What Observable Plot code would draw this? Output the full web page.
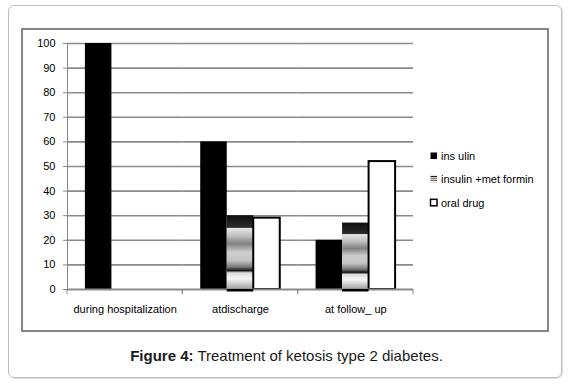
<!DOCTYPE html>
<html>
<head>
<meta charset="utf-8">
<script src="https://cdn.jsdelivr.net/npm/d3@7"></script>
<script src="https://cdn.jsdelivr.net/npm/@observablehq/plot@0.6"></script>
<style>
  html, body { margin: 0; padding: 0; background: #fff; }
  body { width: 573px; height: 386px; position: relative; overflow: hidden; font-family: "Liberation Sans", Arial, sans-serif; }
  #outer { position: absolute; left: 8px; top: 5px; width: 552px; height: 371px; border: 1px solid #bdbdbd; border-radius: 6px; box-shadow: 1px 1px 0 #e0e0e0; }
  #inner { position: absolute; left: 21px; top: 28px; width: 524px; height: 300px; border: 2px solid #858585; }
  #chart { position: absolute; left: 0; top: 0; }
  #legend { position: absolute; left: 428px; top: 148px; }
  #caption { position: absolute; left: 0; top: 347px; width: 573px; text-align: center; font-size: 15px; line-height: 17px; color: #1a1a1a; }
</style>
</head>
<body>
<div id="outer"></div>
<div id="inner"></div>
<div id="chart"></div>
<div id="legend"></div>
<div id="caption"><b>Figure 4:</b> Treatment of ketosis type 2 diabetes.</div>
<script>
// ---- data ----
const categories = ["during hospitalization", "atdischarge", "at follow_ up"];
const series = ["ins ulin", "insulin +met formin", "oral drug"];
const insulin = [100, 60, 20];
const metformin = [0, 30, 27];
const oralDrug = [0, 29, 52];
const yTicks = [0, 10, 20, 30, 40, 50, 60, 70, 80, 90, 100];

const seriesValues = [insulin, metformin, oralDrug];
const rows = [];
series.forEach((s, j) => categories.forEach((c, i) => {
  if (seriesValues[j][i] > 0) rows.push({category: c, series: s, value: seriesValues[j][i]});
}));
const bySeries = s => rows.filter(d => d.series === s);

// gradient stops for the "insulin +met formin" fill
const gradStops = [
  [0, "#0e0e0e"], [0.165, "#2c2c2c"], [0.18, "#e4e4e4"], [0.27, "#c4c4c4"],
  [0.39, "#808080"], [0.5, "#cdcdcd"], [0.61, "#c6c6c6"], [0.7, "#7a7a7a"],
  [0.75, "#151515"], [0.78, "#dadada"], [0.86, "#f6f6f6"], [1, "#a0a0a0"]
];

const boundaryTicks = (index, scales, values, dim) => {
  const g = d3.create("svg:g").attr("stroke", "#888").attr("stroke-width", 1);
  const yb = dim.height - dim.marginBottom;
  for (const xv of [dim.marginLeft, dim.width - dim.marginRight]) {
    g.append("line").attr("x1", xv).attr("x2", xv).attr("y1", yb).attr("y2", yb + 5);
  }
  return g.node();
};

const chart = Plot.plot({
  width: 573,
  height: 386,
  marginLeft: 67,
  marginRight: 160,
  marginTop: 43,
  marginBottom: 97,
  style: {background: "transparent", fontFamily: "'Liberation Sans', Arial, sans-serif", fontSize: "11px", color: "#000"},
  fx: {domain: categories, padding: 0, label: null, round: false},
  x: {domain: series, paddingInner: 0, paddingOuter: 0.675, round: false, axis: null},
  y: {domain: [0, 100], label: null},
  marks: [
    Plot.ruleY(yTicks.filter(d => d > 0), {stroke: "#8a8a8a", strokeWidth: 1.6}),
    Plot.barY(bySeries(series[0]), {fx: "category", x: "series", y: "value", fill: "#000"}),
    Plot.barY(bySeries(series[1]), {fx: "category", x: "series", y: "value", fill: "url(#metGrad)"}),
    Plot.barY(bySeries(series[2]), {fx: "category", x: "series", y: "value", fill: "#fff", stroke: "#000", strokeWidth: 2}),
    Plot.ruleY([0], {stroke: "#8a8a8a", strokeWidth: 2}),
    Plot.barY(bySeries(series[1]), {fx: "category", x: "series", y1: 0, y2: 0, insetBottom: -2.5, fill: "#000"}),
    Plot.frame({anchor: "left", facetAnchor: "left", stroke: "#888"}),
    boundaryTicks,
    Plot.axisY({ticks: yTicks, tickSize: 4, tickPadding: 8, stroke: "#888", fill: "#000", label: null}),
    Plot.axisFx({anchor: "bottom", tickSize: 0, tickPadding: 16, fill: "#000", label: null})
  ]
});

// gradient definition
const defs = d3.select(chart).insert("defs", ":first-child");
const lg = defs.append("linearGradient").attr("id", "metGrad")
  .attr("x1", 0).attr("y1", 0).attr("x2", 0).attr("y2", 1);
gradStops.forEach(([o, c]) => lg.append("stop").attr("offset", o).attr("stop-color", c));
document.getElementById("chart").appendChild(chart);

// legend
const leg = d3.select("#legend").append("svg").attr("width", 130).attr("height", 70)
  .style("font-family", "'Liberation Sans', Arial, sans-serif").style("font-size", "11px");
const legDefs = leg.append("defs");
const lg2 = legDefs.append("linearGradient").attr("id", "metGradLeg")
  .attr("x1", 0).attr("y1", 0).attr("x2", 0).attr("y2", 1);
gradStops.forEach(([o, c]) => lg2.append("stop").attr("offset", o).attr("stop-color", c));
const legFills = ["#000", "url(#metGradLeg)", "#fff"];
series.forEach((s, i) => {
  const base = 12 + i * 23.4;
  const r = leg.append("rect").attr("x", 2.5).attr("y", base - 7.5).attr("width", 6.5).attr("height", 6.5)
    .attr("fill", legFills[i]);
  if (i === 2) r.attr("stroke", "#000").attr("stroke-width", 1.5);
  leg.append("text").attr("x", 13).attr("y", base).attr("fill", "#000").text(s);
});
</script>
</body>
</html>
